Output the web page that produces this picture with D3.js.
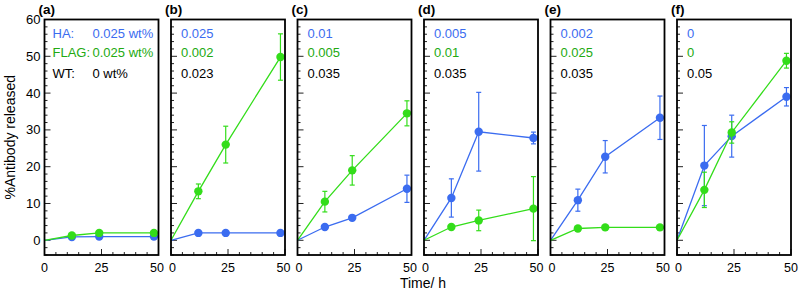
<!DOCTYPE html>
<html>
<head>
<meta charset="utf-8">
<script src="https://cdn.jsdelivr.net/npm/d3@7"></script>
<style>
body { margin: 0; background: #fff; }
svg { font-family: "Liberation Sans", Arial, sans-serif; }
</style>
</head>
<body>
<div id="chart"></div>
<script>
var panel_names = ['(a)', '(b)', '(c)', '(d)', '(e)', '(f)'];
var times = [0, 12, 24, 48];
var ha_conc = ['0.025 wt%', '0.025', '0.01', '0.005', '0.002', '0'];
var flag_conc = ['0.025 wt%', '0.002', '0.005', '0.01', '0.025', '0'];
var wt_conc = ['0 wt%', '0.023', '0.035', '0.035', '0.035', '0.05'];
// values per panel, at times 0, 12, 24, 48
var ha_values = [
    [0, 0.9, 1.0, 1.0],
    [0, 2.0, 2.0, 2.0],
    [0, 3.6, 6.1, 14.0],
    [0, 11.5, 29.5, 27.8],
    [0, 10.9, 22.7, 33.3],
    [0, 20.3, 28.3, 39.0]
];
var ha_err = [
    [0, 0.3, 0.3, 0.3],
    [0, 0.2, 0.2, 0.2],
    [0, 0.3, 0.3, 3.7],
    [0, 5.2, 10.7, 1.6],
    [0, 3.0, 4.4, 5.9],
    [0, 10.9, 5.7, 2.5]
];
var flag_values = [
    [0, 1.3, 2.0, 2.0],
    [0, 13.3, 26.0, 49.8],
    [0, 10.5, 19.0, 34.5],
    [0, 3.6, 5.4, 8.6],
    [0, 3.2, 3.5, 3.5],
    [0, 13.7, 29.3, 48.8]
];
var flag_err = [
    [0, 0.3, 0.3, 0.3],
    [0, 2.0, 5.0, 6.3],
    [0, 2.8, 4.0, 3.4],
    [0, 0.3, 2.8, 8.7],
    [0, 0.2, 0.2, 0.2],
    [0, 4.8, 2.9, 2.0]
];
var y_ticks = [0, 10, 20, 30, 40, 50, 60];
var x_ticks = [0, 25, 50];

var blue = '#3b6cf0';
var green = '#33dd1a';

var W = 800, H = 293;
var svg = d3.select('#chart').append('svg').attr('width', W).attr('height', H);

var top_px = 19.5, bottom_px = 255, panel_w = 114, step = 126.5, first_left = 44.5;
var y_scale = d3.scaleLinear().domain([-4, 60]).range([bottom_px, top_px]);

function draw_series(g, x_scale, vals, errs, color) {
    var line = d3.line().x((d, i) => x_scale(times[i])).y(d => y_scale(d));
    g.append('path').datum(vals).attr('d', line)
        .attr('fill', 'none').attr('stroke', color).attr('stroke-width', 1.3);
    vals.forEach(function (v, i) {
        if (i == 0) return;
        var x = x_scale(times[i]);
        var e = errs[i];
        if (e > 0.5) {
            g.append('line').attr('x1', x).attr('x2', x)
                .attr('y1', y_scale(v - e)).attr('y2', y_scale(v + e))
                .attr('stroke', color).attr('stroke-width', 1.2);
            [v - e, v + e].forEach(function (c) {
                g.append('line').attr('x1', x - 2.5).attr('x2', x + 2.5)
                    .attr('y1', y_scale(c)).attr('y2', y_scale(c))
                    .attr('stroke', color).attr('stroke-width', 1.2);
            });
        }
        g.append('circle').attr('cx', x).attr('cy', y_scale(v)).attr('r', 4.2).attr('fill', color);
    });
}

for (var p = 0; p < 6; p++) {
    var left = first_left + p * step;
    var x_scale = d3.scaleLinear().domain([0, 50]).range([left, left + panel_w]);
    var g = svg.append('g');

    // y ticks, pointing inward
    d3.range(-4, 61, 2).forEach(function (t) {
        var major = t % 10 == 0;
        g.append('line').attr('x1', left).attr('x2', left + (major ? 6 : 3))
            .attr('y1', y_scale(t)).attr('y2', y_scale(t))
            .attr('stroke', '#222').attr('stroke-width', 1);
    });
    // x ticks
    d3.range(0, 51, 5).forEach(function (t) {
        var major = t % 25 == 0;
        g.append('line').attr('x1', x_scale(t)).attr('x2', x_scale(t))
            .attr('y1', bottom_px).attr('y2', bottom_px - (major ? 6 : 3))
            .attr('stroke', '#222').attr('stroke-width', 1);
    });
    x_ticks.forEach(function (t) {
        var xx = x_scale(t);
        if (t == 50 && p < 5) xx -= 1.5;
        if (t == 0 && p > 0) xx += 1.5;
        g.append('text').attr('x', xx).attr('y', 272).attr('text-anchor', 'middle')
            .attr('font-size', 12.5).text(t);
    });
    if (p == 0) {
        y_ticks.forEach(function (t) {
            g.append('text').attr('x', left - 4).attr('y', y_scale(t) + 4.5).attr('text-anchor', 'end')
                .attr('font-size', 13).text(t);
        });
    }

    draw_series(g, x_scale, ha_values[p], ha_err[p], blue);
    draw_series(g, x_scale, flag_values[p], flag_err[p], green);

    g.append('rect').attr('x', left).attr('y', top_px).attr('width', panel_w)
        .attr('height', bottom_px - top_px).attr('fill', 'none').attr('stroke', '#000').attr('stroke-width', 1.8);

    g.append('text').attr('x', left - 6).attr('y', 14).attr('font-size', 13.5).attr('font-weight', 'bold')
        .text(panel_names[p]);

    var tx = p == 0 ? left + 48 : left + 10;
    if (p == 0) {
        g.append('text').attr('x', left + 8).attr('y', 38).attr('font-size', 13).attr('fill', blue).text('HA:');
        g.append('text').attr('x', left + 8).attr('y', 57).attr('font-size', 13).attr('fill', '#22aa11').text('FLAG:');
        g.append('text').attr('x', left + 8).attr('y', 78).attr('font-size', 13).attr('fill', '#000').text('WT:');
    }
    g.append('text').attr('x', tx).attr('y', 38).attr('font-size', 13).attr('fill', blue).text(ha_conc[p]);
    g.append('text').attr('x', tx).attr('y', 57).attr('font-size', 13).attr('fill', '#22aa11').text(flag_conc[p]);
    g.append('text').attr('x', tx).attr('y', 78).attr('font-size', 13).attr('fill', '#000').text(wt_conc[p]);
}

svg.append('text').attr('transform', 'translate(15,' + ((top_px + bottom_px) / 2) + ') rotate(-90)')
    .attr('text-anchor', 'middle').attr('font-size', 14).text('%Antibody released');
svg.append('text').attr('x', 423).attr('y', 288).attr('text-anchor', 'middle')
    .attr('font-size', 14).text('Time/ h');
</script>
</body>
</html>
